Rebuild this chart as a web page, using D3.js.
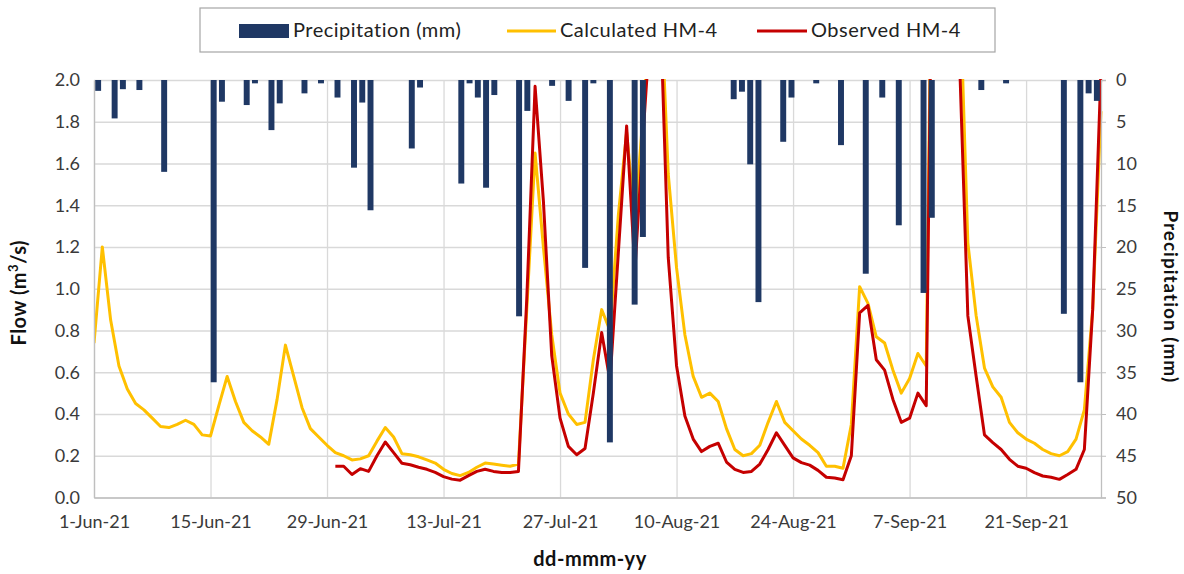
<!DOCTYPE html>
<html><head><meta charset="utf-8">
<script src="https://cdn.jsdelivr.net/npm/d3@7"></script>
<style>
body{margin:0;background:#fff;}
svg{display:block;font-family:Lato,'Open Sans',sans-serif;}
</style>
</head><body>
<svg id="chart" width="1184" height="574"></svg>
<script>
// ---------- DATA ----------
const dates = d3.timeDay.range(new Date(2021, 5, 1), new Date(2021, 9, 1)); // 1-Jun-21 .. 30-Sep-21
const tickLabels = ["1-Jun-21","15-Jun-21","29-Jun-21","13-Jul-21","27-Jul-21","10-Aug-21","24-Aug-21","7-Sep-21","21-Sep-21"];
const tickIndex = [0,14,28,42,56,70,84,98,112];
const flowTicks = [0,0.2,0.4,0.6,0.8,1.0,1.2,1.4,1.6,1.8,2.0];
const precipTicks = [0,5,10,15,20,25,30,35,40,45,50];

const precipitation = [
 1.3,0,4.6,1.1,0,1.2,0,0,11.0,0, 0,0,0,0,36.2,2.6,0,0,3.0,0.4,
 0,6.0,2.8,0,0,1.6,0,0.4,0,2.1, 0,10.5,2.7,15.6,0,0,0,0,8.2,0.9,
 0,0,0,0,12.4,0.4,2.1,12.9,1.8,0, 0,28.3,3.7,0,0,0.7,0,2.5,0,22.5,
 0.4,0,43.4,0,0,26.9,18.8,0,0,0, 0,0,0,0,0,0,0,2.3,1.4,10.1,
 26.6,0,0,7.4,2.1,0,0,0.4,0,0, 7.8,0,0,23.2,0,2.1,0,17.4,0,0,
 25.5,16.5,0,0,0,0,0,1.2,0,0, 0.4,0,0,0,0,0,0,28.0,0,36.2,
 1.6,2.5
];

const calculated = [
 0.74,1.20,0.85,0.63,0.52,0.45,0.42,0.38,0.34,0.335,
 0.35,0.37,0.35,0.30,0.295,0.44,0.58,0.46,0.36,0.32,
 0.29,0.255,0.47,0.73,0.58,0.43,0.33,0.29,0.25,0.215,
 0.20,0.18,0.185,0.20,0.27,0.335,0.29,0.21,0.205,0.195,
 0.18,0.165,0.135,0.115,0.105,0.12,0.145,0.165,0.16,0.155,
 0.15,0.16,0.90,1.65,1.20,0.78,0.50,0.40,0.35,0.36,
 0.66,0.90,0.80,1.35,1.75,1.32,1.85,2.40,2.50,1.55,
 1.10,0.78,0.58,0.48,0.50,0.46,0.33,0.23,0.20,0.21,
 0.25,0.36,0.46,0.36,0.32,0.28,0.25,0.215,0.15,0.15,
 0.14,0.35,1.01,0.93,0.77,0.74,0.61,0.50,0.57,0.69,
 0.63,3.80,4.50,3.50,2.50,1.22,0.87,0.62,0.53,0.48,
 0.36,0.31,0.28,0.26,0.23,0.21,0.20,0.22,0.28,0.42,
 0.90,1.85
];

const observed = [
 null,null,null,null,null,null,null,null,null,null,
 null,null,null,null,null,null,null,null,null,null,
 null,null,null,null,null,null,null,null,null,0.15,
 0.15,0.11,0.138,0.125,0.20,0.266,0.215,0.164,0.157,0.145,
 0.135,0.12,0.10,0.088,0.083,0.105,0.125,0.135,0.125,0.12,
 0.12,0.125,0.95,1.97,1.42,0.68,0.38,0.245,0.205,0.235,
 0.50,0.79,0.56,1.17,1.78,1.09,1.75,2.35,2.40,1.15,
 0.63,0.39,0.28,0.22,0.245,0.26,0.17,0.135,0.12,0.125,
 0.16,0.23,0.31,0.25,0.19,0.167,0.155,0.13,0.097,0.093,
 0.085,0.20,0.885,0.92,0.66,0.61,0.47,0.36,0.38,0.50,
 0.44,3.70,4.50,3.50,2.10,0.87,0.58,0.30,0.263,0.23,
 0.183,0.15,0.14,0.119,0.103,0.097,0.087,0.11,0.135,0.23,
 0.90,2.05
];

// ---------- LAYOUT ----------
const L = 94, R = 1101, T = 80, B = 497.5;
const svg = d3.select("#chart");

const x = d3.scaleTime().domain([dates[0], dates[dates.length-1]]).range([L, R]);
const xb = d3.scaleBand().domain(d3.range(dates.length)).range([L, R]).paddingInner(0.28).paddingOuter(0.14);
const y = d3.scaleLinear().domain([0, 2]).range([B, T]);
const yp = d3.scaleLinear().domain([0, 50]).range([T, B]);

const tickDates = tickIndex.map(i => dates[i]);

// gridlines horizontal
svg.append("g").attr("transform", `translate(${L},0)`)
  .call(d3.axisLeft(y).tickValues(flowTicks).tickSize(-(R-L)).tickFormat(""))
  .call(g => g.select(".domain").remove())
  .call(g => g.selectAll("line").attr("stroke", "#d9d9d9").attr("stroke-width", 1.3));
// gridlines vertical
svg.append("g").attr("transform", `translate(0,${B})`)
  .call(d3.axisBottom(x).tickValues(tickDates).tickSize(-(B-T)).tickFormat(""))
  .call(g => g.select(".domain").remove())
  .call(g => g.selectAll("line").attr("stroke", "#d9d9d9").attr("stroke-width", 1.3));

// lines
svg.append("defs").append("clipPath").attr("id", "plotclip")
  .append("rect").attr("x", L).attr("y", T - 1).attr("width", R - L + 2).attr("height", B - T + 1);

const line = d3.line()
  .defined(d => d.v !== null)
  .x(d => x(d.date))
  .y(d => y(d.v));

const calcData = calculated.map((v, i) => ({date: dates[i], v}));
const obsData = observed.map((v, i) => ({date: dates[i], v}));

const lines = svg.append("g").attr("clip-path", "url(#plotclip)");
lines.append("path").datum(calcData).attr("d", line)
  .attr("fill", "none").attr("stroke", "#FFC000").attr("stroke-width", 3).attr("stroke-linejoin", "round");
lines.append("path").datum(obsData).attr("d", line)
  .attr("fill", "none").attr("stroke", "#C50000").attr("stroke-width", 3).attr("stroke-linejoin", "round");

// bars (secondary, reversed axis from top)
svg.append("g").selectAll("rect").data(precipitation).join("rect")
  .attr("x", (d, i) => xb(i))
  .attr("width", xb.bandwidth())
  .attr("y", yp(0))
  .attr("height", d => yp(d) - yp(0))
  .attr("fill", "#1F3864");

// axes
const axisColor = "#bfbfbf";
const labelColor = "#3a3a3a";
const tickFont = 18;

const gL = svg.append("g").attr("transform", `translate(${L},0)`)
  .call(d3.axisLeft(y).tickValues(flowTicks).tickFormat(d3.format(".1f")).tickSize(0).tickPadding(14));
gL.select(".domain").attr("stroke", axisColor).attr("stroke-width", 1.3);
gL.selectAll("text").attr("fill", labelColor).style("font-size", tickFont + "px").style("font-family", "Lato, sans-serif");

const gR = svg.append("g").attr("transform", `translate(${R},0)`)
  .call(d3.axisRight(yp).tickValues(precipTicks).tickFormat(d3.format("d")).tickSize(5).tickPadding(10));
gR.select(".domain").attr("stroke", axisColor).attr("stroke-width", 1.3);
gR.selectAll("line").attr("stroke", axisColor);
gR.selectAll("text").attr("fill", labelColor).style("font-size", tickFont + "px").style("font-family", "Lato, sans-serif");

const gB = svg.append("g").attr("transform", `translate(0,${B})`)
  .call(d3.axisBottom(x).tickValues(tickDates).tickFormat((d, i) => tickLabels[i]).tickSize(0).tickPadding(18));
gB.select(".domain").attr("stroke", axisColor).attr("stroke-width", 1.3);
gB.selectAll("text").attr("fill", labelColor).style("font-size", tickFont + "px").style("font-family", "Lato, sans-serif");

// axis titles
const lt = svg.append("text").attr("transform", `translate(26,${(T+B)/2 + 4}) rotate(-90)`)
  .attr("text-anchor", "middle").attr("font-weight", "bold").attr("font-size", 20).attr("fill", "#111")
  .attr("letter-spacing", 0.5);
lt.append("tspan").text("Flow (m");
lt.append("tspan").text("3").attr("font-size", 13).attr("dy", -8);
lt.append("tspan").text("/s)").attr("dy", 8);

svg.append("text").attr("transform", `translate(1164,${(T+B)/2 + 8}) rotate(90)`)
  .attr("text-anchor", "middle").attr("font-weight", "bold").attr("font-size", 19).attr("fill", "#111")
  .attr("letter-spacing", 1)
  .text("Precipitation (mm)");

svg.append("text").attr("x", 590).attr("y", 566).attr("text-anchor", "middle")
  .attr("font-weight", "bold").attr("font-size", 20).attr("fill", "#111").attr("letter-spacing", 0.5).text("dd-mmm-yy");

// legend
const lg = svg.append("g");
lg.append("rect").attr("x", 200).attr("y", 8).attr("width", 795).attr("height", 44)
  .attr("fill", "#fff").attr("stroke", "#a6a6a6").attr("stroke-width", 1.2);
lg.append("rect").attr("x", 239).attr("y", 24).attr("width", 50).attr("height", 14).attr("fill", "#1F3864");
lg.append("text").attr("x", 293).attr("y", 37).attr("font-size", 20).attr("letter-spacing", 0.5).attr("fill", "#222").text("Precipitation (mm)");
lg.append("line").attr("x1", 507).attr("x2", 556).attr("y1", 31).attr("y2", 31).attr("stroke", "#FFC000").attr("stroke-width", 3);
lg.append("text").attr("x", 560).attr("y", 37).attr("font-size", 20).attr("letter-spacing", 0.5).attr("fill", "#222").text("Calculated HM-4");
lg.append("line").attr("x1", 757).attr("x2", 807).attr("y1", 31).attr("y2", 31).attr("stroke", "#C50000").attr("stroke-width", 3);
lg.append("text").attr("x", 811).attr("y", 37).attr("font-size", 20).attr("letter-spacing", 0.5).attr("fill", "#222").text("Observed HM-4");
</script>
</body></html>
